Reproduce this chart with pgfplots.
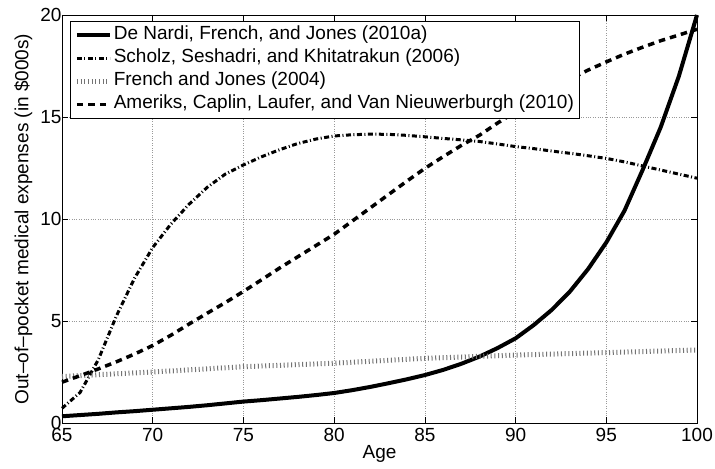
\documentclass[border=0pt]{standalone}
\usepackage{fontspec}
\setmainfont{Liberation Sans}
\usepackage{pgfplots}
\pgfplotsset{compat=1.18}
\begin{document}
\begin{tikzpicture}
\begin{axis}[
  scale only axis,
  width=635bp, height=408bp,
  xmin=65, xmax=100, ymin=0, ymax=20,
  xtick={65,70,...,100}, ytick={0,5,...,20},
  clip=false,
  axis line style={line width=0.8pt},
  tick style={black, line width=0.6pt},
  major tick length=6bp,
  grid=major,
  major grid style={dotted, gray!80, line width=0.6pt},
  font=\fontsize{19bp}{23bp}\selectfont,
  /pgf/number format/assume math mode=true,
  ticklabel style={font=\fontsize{19bp}{23bp}\selectfont},
  yticklabel style={xshift=3bp},
  xticklabel style={yshift=-2bp},
  xlabel={Age},
  ylabel={Out--of--pocket medical expenses (in \$000s)},
  xlabel style={at={(axis description cs:0.5,-0.0873)}, anchor=base},
  ylabel style={at={(axis description cs:-0.0528,0.5)}, anchor=base},
  legend style={at={(axis description cs:0.0126,0.9853)}, anchor=north west,
    draw=black, line width=0.6pt, fill=white, inner xsep=4bp, inner ysep=3bp,
    row sep=1bp,
    nodes={inner sep=1.5bp, text height=14bp, text depth=5bp},
    font=\fontsize{19bp}{23bp}\selectfont,
    cells={anchor=west}},
  legend image code/.code={\draw[#1] (0bp,0bp) -- (33bp,0bp);},
  every axis plot/.append style={legend image code/.code={\draw[#1] (0bp,0bp) -- (33bp,0bp);}},
]
\addplot[black, line width=4bp] coordinates {
(65,0.33)(66,0.39)(67,0.45)(68,0.52)(69,0.58)(70,0.65)(71,0.72)(72,0.79)(73,0.87)(74,0.96)(75,1.05)
(76,1.12)(77,1.20)(78,1.28)(79,1.37)(80,1.47)(81,1.61)(82,1.77)(83,1.95)(84,2.14)(85,2.35)
(86,2.60)(87,2.90)(88,3.25)(89,3.67)(90,4.15)(91,4.80)(92,5.55)(93,6.45)(94,7.55)(95,8.85)
(96,10.4)(97,12.4)(98,14.5)(99,17.0)(100,20.0)};
\addlegendentry{De Nardi, French, and Jones (2010a)}
\addplot[black, line width=3bp, dash pattern=on 5bp off 2.5bp on 1bp off 2.5bp] coordinates {
(65,0.72)(66,1.5)(67,3.1)(68,5.25)(69,7.1)(70,8.6)(71,9.75)(72,10.72)(73,11.55)(74,12.2)(75,12.65)
(76,13.05)(77,13.4)(78,13.7)(79,13.92)(80,14.07)(81,14.13)(82,14.16)(83,14.15)(84,14.1)(85,14.03)
(86,13.95)(87,13.88)(88,13.8)(89,13.68)(90,13.55)(91,13.45)(92,13.33)(93,13.22)(94,13.1)(95,12.97)
(96,12.8)(97,12.6)(98,12.4)(99,12.2)(100,12.0)};
\addlegendentry{Scholz, Seshadri, and Khitatrakun (2006)}
\addplot[black!55, line width=5bp, dash pattern=on 1bp off 2.7bp] coordinates {
(65,2.28)(70,2.50)(75,2.76)(80,2.93)(85,3.17)(90,3.33)(95,3.45)(100,3.58)};
\addlegendentry{French and Jones (2004)}
\addplot[black, line width=3.5bp, dash pattern=on 6.5bp off 5bp] coordinates {
(65,2.0)(66,2.32)(67,2.65)(68,3.0)(69,3.38)(70,3.8)(71,4.3)(72,4.85)(73,5.38)(74,5.9)(75,6.45)
(76,7.02)(77,7.6)(78,8.15)(79,8.7)(80,9.25)(81,9.9)(82,10.55)(83,11.2)(84,11.85)(85,12.48)
(86,13.05)(87,13.6)(88,14.1)(89,14.7)(90,15.25)(91,15.75)(92,16.3)(93,16.85)(94,17.3)(95,17.7)
(96,18.08)(97,18.42)(98,18.74)(99,19.02)(100,19.3)};
\addlegendentry{Ameriks, Caplin, Laufer, and Van Nieuwerburgh (2010)}
\end{axis}
\pgfresetboundingbox
\path ([shift={(-62bp,-46bp)}]current axis.south west) rectangle ([shift={(18bp,15bp)}]current axis.north east);
\end{tikzpicture}
\end{document}
